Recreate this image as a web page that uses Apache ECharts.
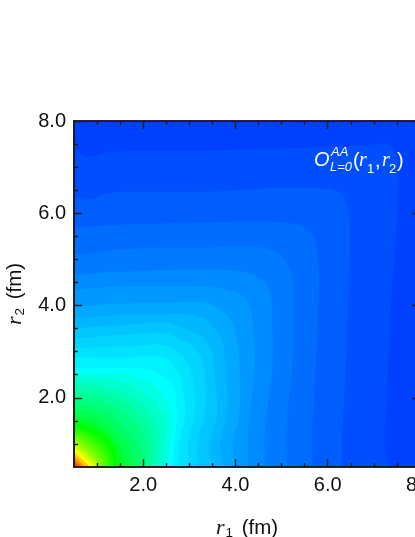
<!DOCTYPE html>
<html>
<head>
<meta charset="utf-8">
<script src="https://cdn.jsdelivr.net/npm/echarts@6/dist/echarts.min.js"></script>
<style>
  html, body { margin: 0; padding: 0; background: #fff; overflow: hidden; }
  #chart { width: 415px; height: 537px; }
</style>
</head>
<body>
<div id="chart"></div>
<script>
// tick labels
const majorTicks = [2, 4, 6, 8];
const minorTicks = [1, 1.5, 2.5, 3, 3.5, 4.5, 5, 5.5, 6.5, 7, 7.5];

// level of each filled contour, 0..1 on the colour scale
const levels = [
  0.063, 0.0775, 0.092, 0.1065, 0.121, 0.1355, 0.15, 0.1645, 0.179, 0.1935, 0.208, 0.2225, 0.237,
  0.25, 0.275, 0.3, 0.325, 0.35, 0.375, 0.4, 0.425, 0.45, 0.475, 0.5, 0.525, 0.55, 0.575, 0.6,
  0.625, 0.65, 0.675, 0.7, 0.725, 0.75, 0.8, 0.85, 0.9, 0.925
];

// contour lines, [r1, r2] in fm, outermost first
const contours = [
  [[0.5, 8], [8, 8], [8, 0.5]],
  [[0.5, 7.37], [0.78, 7.22], [1.32, 7.33], [3.23, 7.35], [5.39, 7.41], [6.91, 7.48], [7.38, 7.46], [7.51, 7.05], [7.49, 5.85], [7.36, 3.9], [7.27, 1.95], [7.23, 1.08], [7.3, 0.5]],
  [[0.5, 6.35], [0.78, 6.29], [1.32, 6.44], [3.34, 6.46], [5.28, 6.55], [6.21, 6.46], [6.43, 6.13], [6.47, 5.2], [6.43, 3.9], [6.37, 2.38], [6.3, 1.08], [6.3, 0.5]],
  [[0.5, 5.68], [1.32, 5.74], [3.34, 5.79], [5.13, 5.79], [5.61, 5.59], [5.78, 5.05], [5.78, 3.68], [5.72, 2.38], [5.65, 1.08], [5.67, 0.5]],
  [[0.5, 5.14], [0.78, 5.09], [1.32, 5.2], [3.34, 5.25], [4.57, 5.25], [5.02, 5.05], [5.22, 4.62], [5.24, 3.68], [5.22, 2.6], [5.09, 1.3], [5.11, 0.5]],
  [[0.5, 4.66], [1.32, 4.72], [3.34, 4.77], [4.27, 4.7], [4.7, 4.4], [4.79, 3.68], [4.79, 2.6], [4.63, 1.3], [4.63, 0.5]],
  [[0.5, 4.33], [1.32, 4.4], [3.34, 4.4], [3.98, 4.29], [4.24, 4.12], [4.37, 3.68], [4.4, 2.6], [4.27, 1.3], [4.27, 0.5]],
  [[0.5, 3.97], [1.32, 4.03], [2.45, 4.05], [3.38, 4.05], [3.73, 3.86], [3.92, 3.62], [4.05, 3.1], [4.09, 2.38], [4.07, 1.58], [3.94, 1.02], [3.98, 0.5]],
  [[0.5, 3.73], [1.5, 3.79], [2.45, 3.81], [3.08, 3.79], [3.44, 3.62], [3.7, 3.25], [3.81, 2.38], [3.81, 1.67], [3.66, 1.02], [3.73, 0.5]],
  [[0.5, 3.51], [1.5, 3.57], [2.45, 3.62], [2.79, 3.53], [3.29, 3.31], [3.49, 2.97], [3.55, 2.38], [3.6, 1.67], [3.44, 0.93], [3.49, 0.5]],
  [[0.5, 3.29], [1.5, 3.36], [2.45, 3.4], [2.73, 3.29], [3.08, 3.1], [3.27, 2.82], [3.34, 2.38], [3.34, 1.67], [3.18, 1.08], [3.18, 0.5]],
  [[0.5, 3.08], [1.5, 3.1], [2.45, 3.14], [2.73, 2.99], [2.97, 2.75], [3.08, 2.38], [3.12, 1.67], [2.97, 1.08], [2.97, 0.5]],
  [[0.5, 2.88], [1.5, 2.86], [2.45, 2.88], [2.75, 2.56], [2.84, 2.38], [2.9, 1.58], [2.79, 1.08], [2.75, 0.5]],
  [[0.5, 2.64], [1.5, 2.64], [2.15, 2.6], [2.62, 2.27], [2.72, 1.73], [2.68, 1.08], [2.62, 0.5]],
  [[0.5, 2.53], [1.28, 2.53], [1.93, 2.43], [2.4, 2.1], [2.62, 1.62], [2.58, 0.97], [2.52, 0.5]],
  [[0.5, 2.43], [1.17, 2.4], [1.71, 2.27], [2.19, 1.95], [2.47, 1.51], [2.47, 0.97], [2.43, 0.5]],
  [[0.5, 2.27], [1.06, 2.25], [1.6, 2.1], [2.04, 1.8], [2.3, 1.41], [2.34, 0.97], [2.3, 0.5]],
  [[0.5, 2.12], [1.06, 2.08], [1.5, 1.95], [1.89, 1.67], [2.15, 1.3], [2.21, 0.86], [2.17, 0.5]],
  [[0.5, 1.99], [0.95, 1.95], [1.39, 1.8], [1.76, 1.51], [2.0, 1.19], [2.08, 0.82], [2.06, 0.5]],
  [[0.5, 1.84], [0.85, 1.82], [1.28, 1.64], [1.6, 1.36], [1.84, 1.08], [1.95, 0.75], [1.93, 0.5]],
  [[0.5, 1.71], [0.8, 1.69], [1.17, 1.51], [1.45, 1.25], [1.69, 0.93], [1.8, 0.5]],
  [[0.5, 1.58], [0.76, 1.56], [1.11, 1.38], [1.32, 1.17], [1.54, 0.86], [1.67, 0.5]],
  [[0.5, 1.51], [0.76, 1.45], [1.06, 1.3], [1.32, 1.04], [1.56, 0.5]],
  [[0.5, 1.45], [0.85, 1.34], [1.17, 1.19], [1.34, 1.02], [1.43, 0.58], [1.45, 0.5]],
  [[0.5, 1.36], [0.82, 1.26], [1.15, 1.06], [1.37, 0.5]],
  [[0.5, 1.28], [0.8, 1.19], [1.13, 0.93], [1.3, 0.5]],
  [[0.5, 1.22], [0.77, 1.12], [1.06, 0.88], [1.24, 0.5]],
  [[0.5, 1.17], [0.74, 1.06], [1.0, 0.82], [1.17, 0.5]],
  [[0.5, 1.11], [0.71, 1.0], [0.95, 0.78], [1.11, 0.5]],
  [[0.5, 1.06], [0.69, 0.93], [0.91, 0.73], [1.06, 0.5]],
  [[0.5, 1.02], [0.67, 0.89], [0.88, 0.7], [1.03, 0.5]],
  [[0.5, 0.97], [0.65, 0.84], [0.85, 0.67], [1.0, 0.5]],
  [[0.5, 0.93], [0.64, 0.81], [0.81, 0.65], [0.95, 0.5]],
  [[0.5, 0.89], [0.63, 0.78], [0.78, 0.62], [0.91, 0.5]],
  [[0.5, 0.8], [0.62, 0.71], [0.74, 0.6], [0.83, 0.5]],
  [[0.5, 0.72], [0.62, 0.62], [0.72, 0.5]],
  [[0.5, 0.64], [0.58, 0.58], [0.65, 0.5]],
  [[0.5, 0.58], [0.59, 0.5]]
];

const axisDark = '#1a1a1a';
const frame = { left: 74, top: 121, width: 346, height: 346, outerBoundsMode: 'none', containLabel: false };
const labelFont = 'Liberation Sans';

function axisCommon(values, length) {
  return {
    type: 'value',
    min: 0.5,
    max: 8,
    interval: 0.5,
    z: 10,
    splitLine: { show: false },
    axisLine: { show: true, onZero: false, lineStyle: { color: axisDark, width: 1.6 } },
    axisTick: { show: true, inside: true, length: length, customValues: values, lineStyle: { color: axisDark, width: 1.4 } },
    axisLabel: { show: false }
  };
}

function mainAxis(position, name, nameGap) {
  const axis = axisCommon(majorTicks, 8);
  axis.position = position;
  axis.gridIndex = 0;
  axis.axisLabel = {
    show: true,
    customValues: majorTicks,
    color: '#111',
    fontFamily: labelFont,
    fontSize: 20,
    margin: 8,
    formatter: function (v) { return v.toFixed(1); }
  };
  axis.name = name;
  axis.nameLocation = 'middle';
  axis.nameGap = nameGap;
  axis.nameTextStyle = {
    color: '#111',
    fontFamily: labelFont,
    fontSize: 20,
    rich: {
      r: { fontFamily: 'Liberation Serif', fontStyle: 'italic', fontSize: 22, color: '#111' },
      s: { fontFamily: labelFont, fontSize: 13.5, color: '#111', padding: [9, 3, 0, 1] },
      t: { fontFamily: labelFont, fontSize: 20.5, color: '#111' }
    }
  };
  return axis;
}

function plainAxis(position, values, length, gridIndex) {
  const axis = axisCommon(values, length);
  axis.position = position;
  axis.gridIndex = gridIndex;
  return axis;
}

const chart = echarts.init(document.getElementById('chart'));

chart.setOption({
  animation: false,
  backgroundColor: '#fff',
  grid: [
    Object.assign({}, frame),
    Object.assign({}, frame)
  ],
  xAxis: [
    mainAxis('bottom', '{r|r}{s|1}{t| (fm)}', 50),
    plainAxis('top', majorTicks, 8, 0),
    plainAxis('bottom', minorTicks, 4, 1),
    plainAxis('top', minorTicks, 4, 1)
  ],
  yAxis: [
    mainAxis('left', '{r|r}{s|2}{t| (fm)}', 47),
    plainAxis('right', majorTicks, 8, 0),
    plainAxis('left', minorTicks, 4, 1),
    plainAxis('right', minorTicks, 4, 1)
  ],
  visualMap: {
    show: false,
    type: 'continuous',
    min: 0,
    max: 1,
    dimension: 0,
    seriesIndex: 0,
    inRange: { color: ['#0000ff', '#00ffff', '#00ff00', '#ffff00', '#ff0000'] }
  },
  series: [{
    type: 'custom',
    coordinateSystem: 'cartesian2d',
    xAxisIndex: 0,
    yAxisIndex: 0,
    clip: true,
    silent: true,
    encode: { x: [], y: [] },
    data: levels.map(function (v, i) { return [v, i]; }),
    renderItem: function (params, api) {
      const line = contours[api.value(1)];
      const first = line[0];
      const last = line[line.length - 1];
      const isBase = api.value(1) === 0;
      // run the line past the plot edges and close it round the origin corner,
      // the clip hides that part so the smoothing does not bend the edges
      const outline = isBase ? line.concat([[0.5, 0.5]]) : [[-1, first[1]]].concat(line, [[last[0], -1], [-1, -1]]);
      const color = api.visual('color');
      return {
        type: 'polygon',
        shape: { points: outline.map(function (p) { return api.coord(p); }), smooth: isBase ? 0 : 0.35 },
        style: { fill: color, stroke: color, lineWidth: 0.5 }
      };
    }
  }],
  graphic: [
    { type: 'text', left: 314, top: 150, z: 20, style: { text: 'O', fill: '#fff', font: 'italic 20px "Liberation Sans"' } },
    { type: 'text', left: 331, top: 146, z: 20, style: { text: 'AA', fill: '#fff', font: 'italic 13px "Liberation Sans"' } },
    { type: 'text', left: 330, top: 161, z: 20, style: { text: 'L=0', fill: '#fff', font: 'italic 13px "Liberation Sans"' } },
    { type: 'text', left: 353, top: 151, z: 20, style: { text: '(', fill: '#fff', font: '20px "Liberation Sans"' } },
    { type: 'text', left: 359, top: 151, z: 20, style: { text: 'r', fill: '#fff', font: 'italic 20px "Liberation Serif"' } },
    { type: 'text', left: 367, top: 163, z: 20, style: { text: '1', fill: '#fff', font: '13px "Liberation Sans"' } },
    { type: 'text', left: 375, top: 151, z: 20, style: { text: ',', fill: '#fff', font: '20px "Liberation Sans"' } },
    { type: 'text', left: 382, top: 151, z: 20, style: { text: 'r', fill: '#fff', font: 'italic 20px "Liberation Serif"' } },
    { type: 'text', left: 389, top: 163, z: 20, style: { text: '2', fill: '#fff', font: '13px "Liberation Sans"' } },
    { type: 'text', left: 397, top: 151, z: 20, style: { text: ')', fill: '#fff', font: '20px "Liberation Sans"' } }
  ]
});
</script>
</body>
</html>
